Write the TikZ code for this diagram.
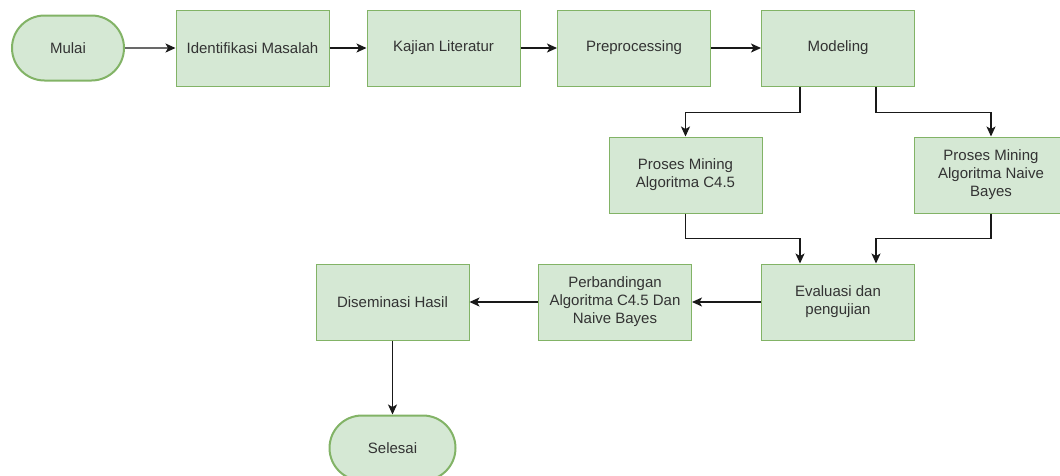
\documentclass[tikz,border=0pt]{standalone}
\usepackage{fontspec}
\setmainfont{Liberation Sans}
\usetikzlibrary{arrows.meta,shapes.misc}
\definecolor{boxfill}{HTML}{D5E8D4}
\definecolor{boxdraw}{HTML}{82B366}
\definecolor{txt}{HTML}{333333}
\begin{document}
\begin{tikzpicture}[x=1pt,y=-1pt,
  every node/.style={font=\fontsize{15}{18}\selectfont, text=txt, align=center},
  procbox/.style={draw=boxdraw, fill=boxfill, line width=1pt, rectangle, minimum width=153pt, minimum height=76pt, inner sep=2pt},
  termbox/.style={draw=boxdraw, fill=boxfill, line width=2pt, rounded rectangle, minimum width=116pt, minimum height=65pt, inner sep=2pt},
  arr/.style={draw=black!90, line width=1.2pt, -{Stealth[length=10pt,width=9pt,inset=2.5pt]}}]
\useasboundingbox (0,0) rectangle (1060,475);
\node[termbox] (mulai) at (68,48) {Mulai};
\node[procbox] (ident) at (252.5,48) {Identifikasi Masalah};
\node[procbox] (kaji) at (443.5,48) {Kajian Literatur};
\node[procbox] (prep) at (634,48) {Preprocessing};
\node[procbox] (mod) at (838,48) {Modeling};
\node[procbox] (c45) at (685.5,175) {Proses Mining\\Algoritma C4.5};
\node[procbox] (nb) at (991,175) {Proses Mining\\Algoritma Naive\\Bayes};
\node[procbox] (eval) at (838,302) {Evaluasi dan\\pengujian};
\node[procbox] (perb) at (615,302) {Perbandingan\\Algoritma C4.5 Dan\\Naive Bayes};
\node[procbox] (dis) at (392.5,302) {Diseminasi Hasil};
\node[termbox, minimum width=130pt] (sel) at (392.5,448) {Selesai};
\draw[arr] (mulai) -- (ident);
\draw[arr] (ident) -- (kaji);
\draw[arr] (kaji) -- (prep);
\draw[arr] (prep) -- (mod);
\draw[arr] ([xshift=-38pt]mod.south) -- ++(0,26) -| (c45.north);
\draw[arr] ([xshift=38pt]mod.south) -- ++(0,26) -| (nb.north);
\draw[arr] (c45.south) -- ++(0,25) -| ([xshift=-38pt]eval.north);
\draw[arr] (nb.south) -- ++(0,25) -| ([xshift=38pt]eval.north);
\draw[arr] (eval) -- (perb);
\draw[arr] (perb) -- (dis);
\draw[arr] (dis) -- (sel);
\end{tikzpicture}
\end{document}
